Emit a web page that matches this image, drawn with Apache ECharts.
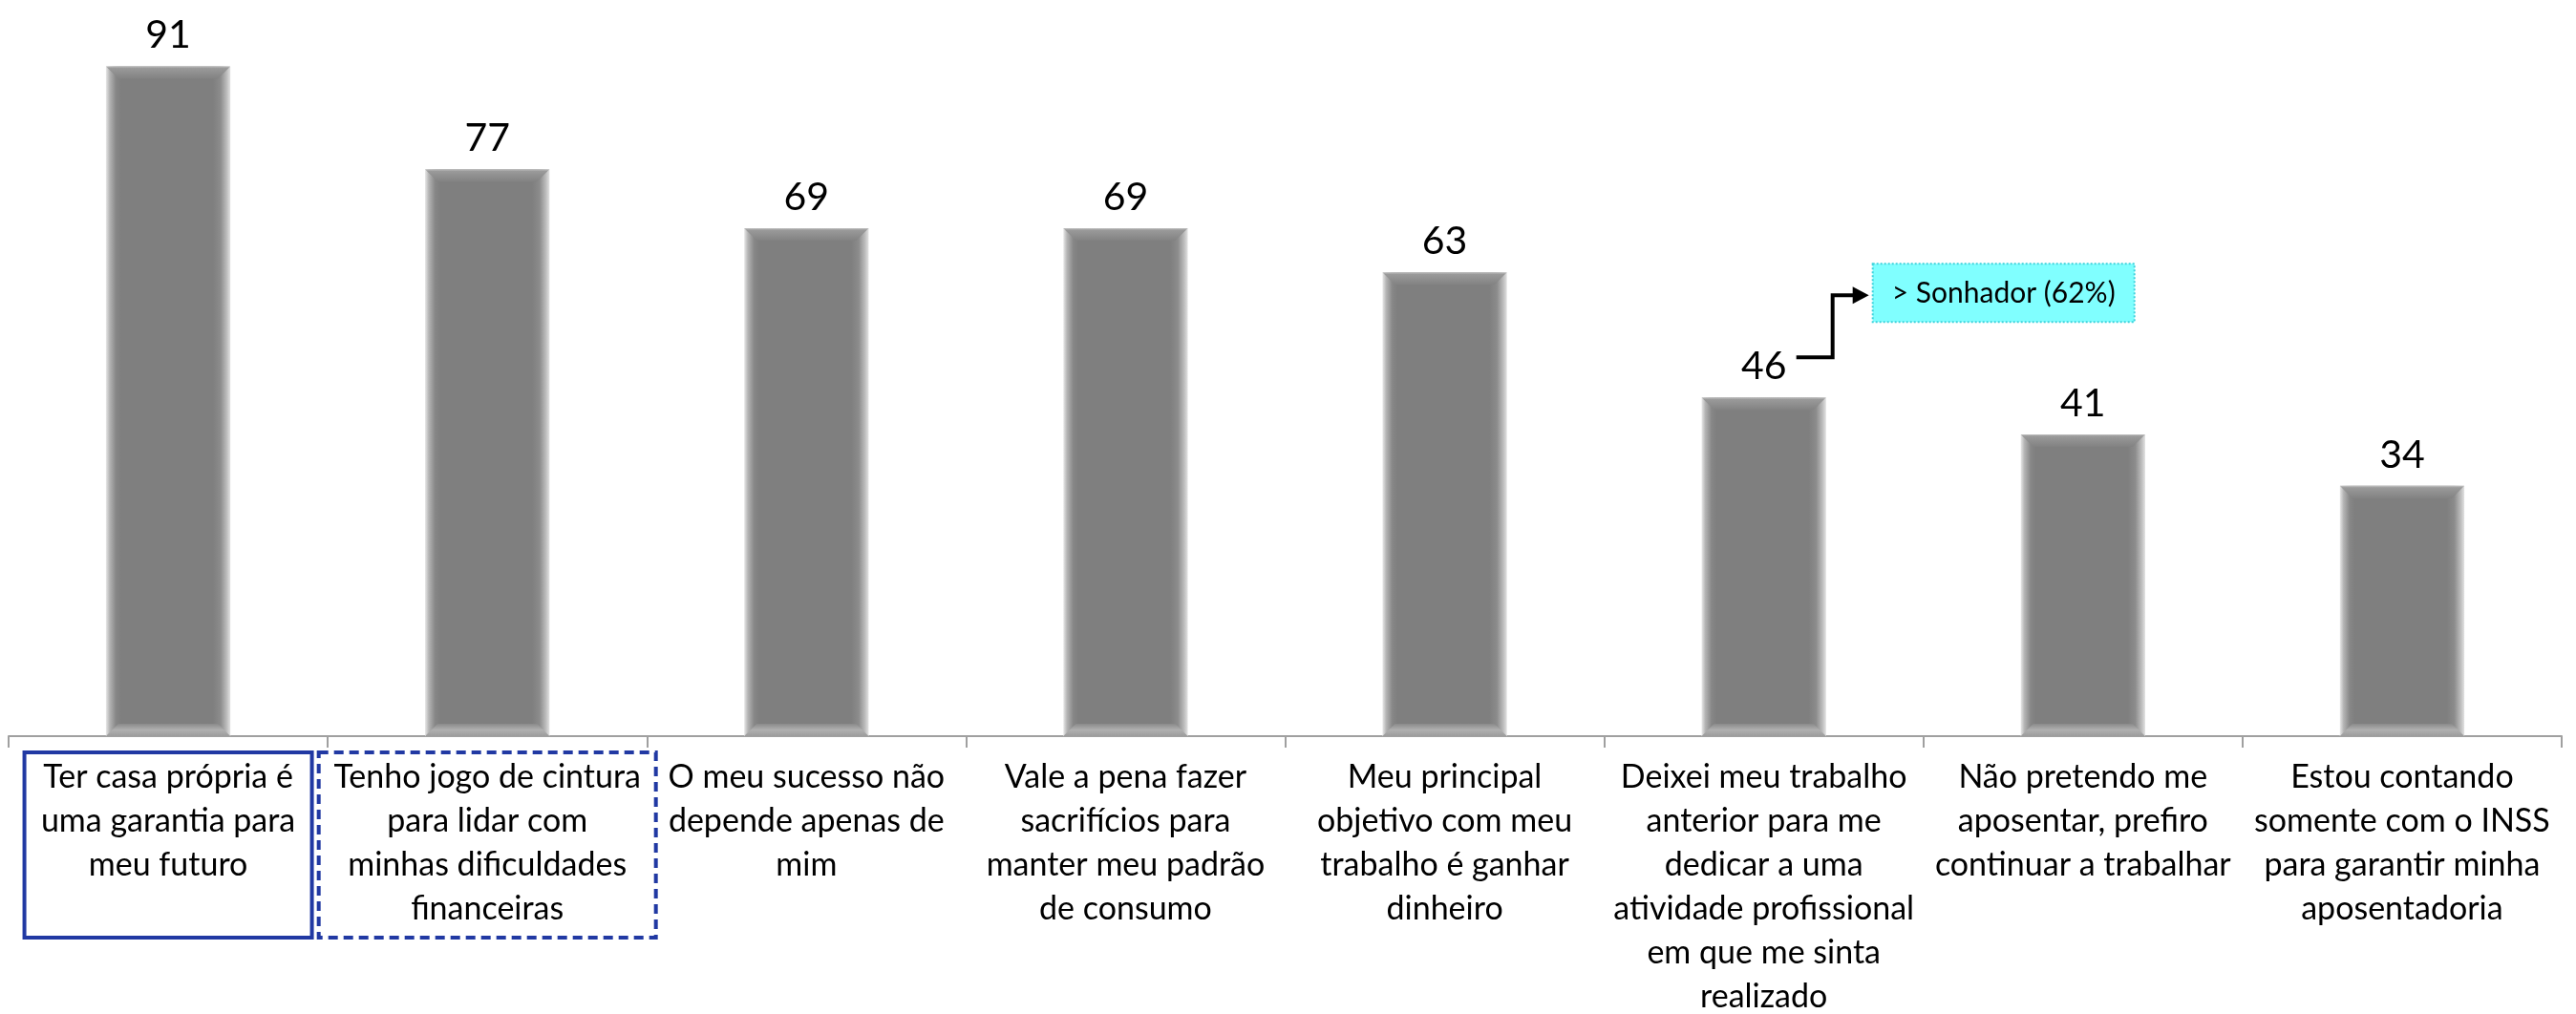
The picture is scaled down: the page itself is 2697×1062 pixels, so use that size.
<!DOCTYPE html>
<html>
<head>
<meta charset="utf-8">
<script src="https://cdn.jsdelivr.net/npm/echarts@6/dist/echarts.min.js"></script>
<style>
  html, body { margin: 0; padding: 0; background: #fff; }
  #main { width: 2697px; height: 1062px; }
</style>
</head>
<body>
<div id="main"></div>
<script>
// dados do gráfico
var categories = [
    'Ter casa própria é\numa garantia para\nmeu futuro',
    'Tenho jogo de cintura\npara lidar com\nminhas dificuldades\nfinanceiras',
    'O meu sucesso não\ndepende apenas de\nmim',
    'Vale a pena fazer\nsacrifícios para\nmanter meu padrão\nde consumo',
    'Meu principal\nobjetivo com meu\ntrabalho é ganhar\ndinheiro',
    'Deixei meu trabalho\nanterior para me\ndedicar a uma\natividade profissional\nem que me sinta\nrealizado',
    'Não pretendo me\naposentar, prefiro\ncontinuar a trabalhar',
    'Estou contando\nsomente com o INSS\npara garantir minha\naposentadoria'
];
var values = [91, 77, 69, 69, 63, 46, 41, 34];
// destaque: 0 = caixa contínua, 1 = caixa tracejada
var boxedSolid = 0;
var boxedDashed = 1;
var noteIndex = 5;
var noteText = '> Sonhador (62%)';

var FONT = 'Lato';
var BLUE = '#2139a3';

var chart = echarts.init(document.getElementById('main'));

// itens do eixo x, com as caixas de destaque
var axisData = categories.map(function (c, i) {
    if (i === boxedSolid) {
        return { value: c, textStyle: { borderColor: BLUE, borderWidth: 4, borderType: 'solid', width: 289, height: 180 } };
    }
    if (i === boxedDashed) {
        return { value: c, textStyle: { borderColor: BLUE, borderWidth: 4, borderType: [10, 6], width: 341, height: 180 } };
    }
    return c;
});

var barGradient = new echarts.graphic.LinearGradient(0, 0, 1, 0, [
    { offset: 0, color: '#e8e8e8' },
    { offset: 0.03, color: '#b4b4b4' },
    { offset: 0.08, color: '#878787' },
    { offset: 0.12, color: '#7f7f7f' },
    { offset: 0.86, color: '#7f7f7f' },
    { offset: 0.92, color: '#8c8c8c' },
    { offset: 0.97, color: '#bcbcbc' },
    { offset: 1, color: '#e2e2e2' }
]);

// chanfro superior e inferior das barras
function renderBevel(params, api) {
    var idx = api.value(0);
    var top = api.coord([idx, api.value(1)]);
    var base = api.coord([idx, 0]);
    var bw = api.size([1, 0])[0] * 0.39;
    var l = top[0] - bw / 2, r = top[0] + bw / 2;
    var b = bw * 0.1;
    return {
        type: 'group',
        children: [{
            type: 'polygon',
            shape: { points: [[l, top[1]], [r, top[1]], [r - b, top[1] + b], [l + b, top[1] + b]] },
            style: {
                fill: new echarts.graphic.LinearGradient(0, 0, 0, 1, [
                    { offset: 0, color: '#c4c4c4' },
                    { offset: 0.15, color: '#9a9a9a' },
                    { offset: 1, color: '#828282' }
                ])
            }
        }, {
            type: 'polygon',
            shape: { points: [[l + b, base[1] - b], [r - b, base[1] - b], [r, base[1]], [l, base[1]]] },
            style: {
                fill: new echarts.graphic.LinearGradient(0, 0, 0, 1, [
                    { offset: 0, color: '#8a8a8a' },
                    { offset: 0.5, color: '#b0b0b0' },
                    { offset: 1, color: '#9c9c9c' }
                ])
            }
        }]
    };
}

var option = {
    animation: false,
    grid: { left: 9, right: 15, top: 0, bottom: 291, outerBoundsMode: 'none', containLabel: false },
    xAxis: {
        type: 'category',
        data: axisData,
        axisLine: { lineStyle: { color: '#a0a0a0', width: 2 } },
        axisTick: { show: true, length: 12, lineStyle: { color: '#a0a0a0', width: 2 } },
        axisLabel: {
            interval: 0,
            margin: 17,
            color: '#000',
            fontFamily: FONT,
            fontSize: 34,
            lineHeight: 46,
            padding: [3, 6, 11, 6],
            verticalAlign: 'top'
        }
    },
    yAxis: { type: 'value', min: 0, max: 100, show: false },
    series: [{
        type: 'bar',
        data: values,
        barWidth: '39%',
        itemStyle: { color: barGradient },
        label: {
            show: true,
            position: 'top',
            distance: 12,
            color: '#000',
            fontFamily: FONT,
            fontSize: 41
        }
    }, {
        type: 'custom',
        data: values.map(function (v, i) { return [i, v]; }),
        encode: { x: 0, y: 1 },
        renderItem: renderBevel,
        z: 3,
        silent: true
    }]
};
chart.setOption(option);

// anotação "> Sonhador"
var p = chart.convertToPixel({ gridIndex: 0 }, [noteIndex, values[noteIndex]]);
var cx = p[0], ty = p[1];
chart.setOption({
    graphic: [{
        type: 'polyline',
        shape: { points: [[cx + 34, ty - 42], [cx + 72, ty - 42], [cx + 72, ty - 107], [cx + 96, ty - 107]] },
        style: { stroke: '#000', lineWidth: 4, fill: null }
    }, {
        type: 'polygon',
        shape: { points: [[cx + 93, ty - 116], [cx + 110, ty - 107], [cx + 93, ty - 98]] },
        style: { fill: '#000' }
    }, {
        type: 'rect',
        shape: { x: cx + 114, y: ty - 140, width: 274, height: 61 },
        style: { fill: '#80ffff', stroke: '#3fd3dc', lineWidth: 2, lineDash: [2, 2] }
    }, {
        type: 'text',
        x: cx + 114 + 137,
        y: ty - 140 + 31,
        style: { text: noteText, fill: '#000', font: '30px ' + FONT, align: 'center', verticalAlign: 'middle' }
    }]
});
</script>
</body>
</html>
